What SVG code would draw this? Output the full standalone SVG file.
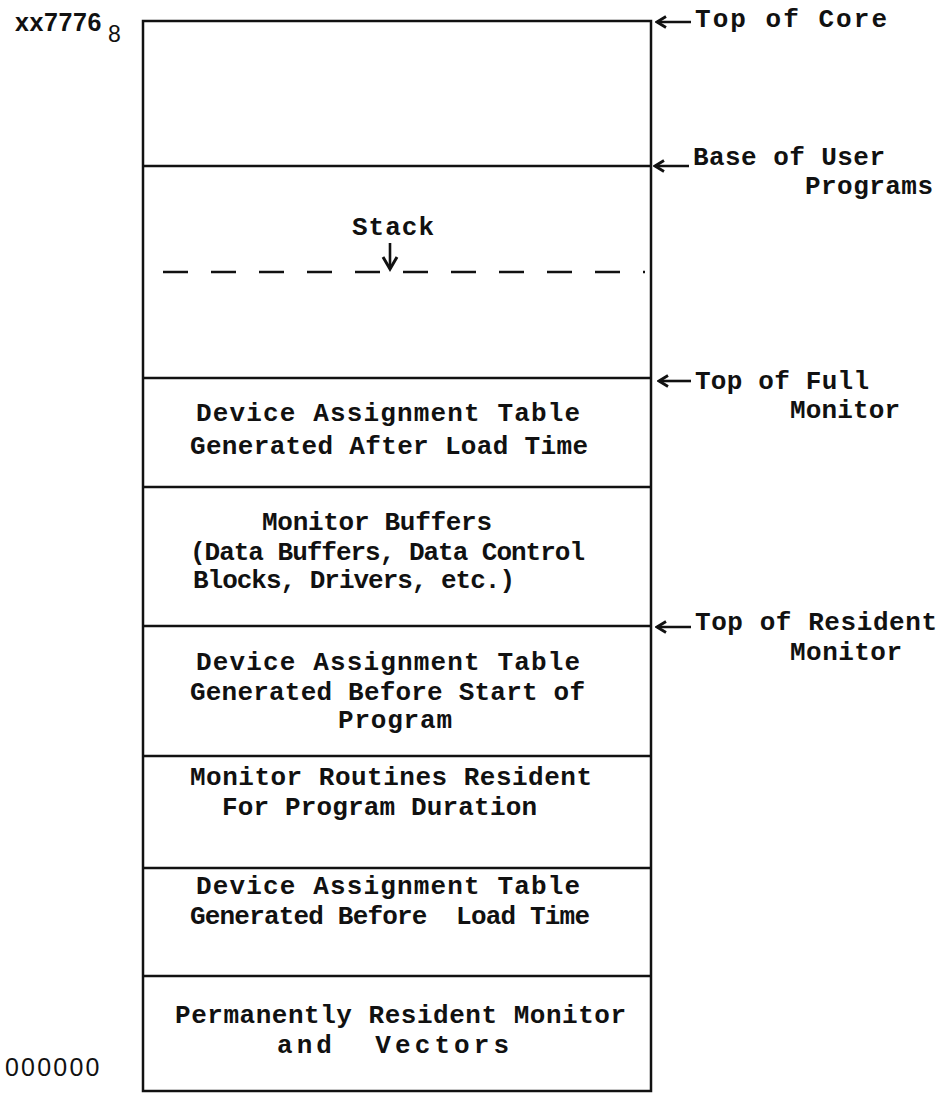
<svg xmlns="http://www.w3.org/2000/svg" width="941" height="1097" viewBox="0 0 941 1097">
<style>
.t{font-family:"Liberation Mono","DejaVu Sans Mono",monospace;font-size:26px;font-weight:bold;fill:#111}
.s{font-family:"Liberation Sans","DejaVu Sans",sans-serif;font-size:25px;fill:#111}
.ln{stroke:#111;stroke-width:2.5;fill:none}
.ar{stroke:#111;stroke-width:2.6;fill:none}
</style>
<defs>
<marker id="ah" viewBox="0 0 14 14" refX="12" refY="7" markerWidth="14" markerHeight="14" markerUnits="userSpaceOnUse" orient="auto">
<path d="M3,1.5 L12,7 L3,12.5" stroke="#111" stroke-width="2.8" fill="none" stroke-linejoin="miter"/>
</marker>
<marker id="ahs" viewBox="0 0 18 18" refX="15" refY="9" markerWidth="18" markerHeight="18" markerUnits="userSpaceOnUse" orient="auto">
<path d="M3,2 L15,9 L3,16" stroke="#111" stroke-width="3" fill="none" stroke-linejoin="miter"/>
</marker>
</defs>
<g id="memory-box">
<rect class="ln" x="143" y="21" width="508" height="1070"/>
</g>
<g id="dividers">
<line class="ln" x1="143" y1="166" x2="651" y2="166"/>
<line class="ln" x1="143" y1="378" x2="651" y2="378"/>
<line class="ln" x1="143" y1="487" x2="651" y2="487"/>
<line class="ln" x1="143" y1="626" x2="651" y2="626"/>
<line class="ln" x1="143" y1="756" x2="651" y2="756"/>
<line class="ln" x1="143" y1="868" x2="651" y2="868"/>
<line class="ln" x1="143" y1="976" x2="651" y2="976"/>
</g>
<g id="stack">
<line x1="163" y1="272" x2="645" y2="272" stroke="#111" stroke-width="2.5" stroke-dasharray="25 23"/>
<text class="t" x="352" y="235" textLength="82" lengthAdjust="spacing">Stack</text>
</g>
<g id="dat-after">
<text class="t" x="196" y="421" textLength="384" lengthAdjust="spacing">Device Assignment Table</text>
<text class="t" x="190" y="454" textLength="398" lengthAdjust="spacing">Generated After Load Time</text>
</g>
<g id="monitor-buffers">
<text class="t" x="262" y="530" textLength="230" lengthAdjust="spacing">Monitor Buffers</text>
<text class="t" x="190" y="560" textLength="395" lengthAdjust="spacing">(Data Buffers, Data Control</text>
<text class="t" x="193" y="588" textLength="322" lengthAdjust="spacing">Blocks, Drivers, etc.)</text>
</g>
<g id="dat-before-start">
<text class="t" x="196" y="670" textLength="384" lengthAdjust="spacing">Device Assignment Table</text>
<text class="t" x="190" y="700" textLength="395" lengthAdjust="spacing">Generated Before Start of</text>
<text class="t" x="338" y="728" textLength="114" lengthAdjust="spacing">Program</text>
</g>
<g id="monitor-routines">
<text class="t" x="190" y="785" textLength="402" lengthAdjust="spacing">Monitor Routines Resident</text>
<text class="t" x="222" y="815" textLength="315" lengthAdjust="spacing">For Program Duration</text>
</g>
<g id="dat-before-load">
<text class="t" x="196" y="894" textLength="384" lengthAdjust="spacing">Device Assignment Table</text>
<text class="t" x="190" y="924" textLength="400" lengthAdjust="spacing" xml:space="preserve">Generated Before  Load Time</text>
</g>
<g id="permanent">
<text class="t" x="175" y="1023" textLength="451" lengthAdjust="spacing">Permanently Resident Monitor</text>
<text class="t" x="277" y="1053" textLength="232" lengthAdjust="spacing" xml:space="preserve">and  Vectors</text>
</g>
<g id="addresses">
<text x="15" y="31" style="font-family:'Liberation Sans','DejaVu Sans',sans-serif;font-size:25px;font-weight:bold;fill:#111" letter-spacing="0.6">xx7776<tspan x="108" y="42" font-size="23" font-weight="normal" letter-spacing="0">8</tspan></text>
<text class="s" x="5" y="1076" letter-spacing="2.2">000000</text>
</g>
<g id="labels">
<text class="t" x="695" y="27" textLength="192" lengthAdjust="spacing">Top of Core</text>
<text class="t" x="693" y="165" textLength="192" lengthAdjust="spacing">Base of User</text>
<text class="t" x="805" y="194" textLength="128" lengthAdjust="spacing">Programs</text>
<text class="t" x="695" y="389" textLength="174" lengthAdjust="spacing">Top of Full</text>
<text class="t" x="790" y="418" textLength="110" lengthAdjust="spacing">Monitor</text>
<text class="t" x="695" y="630" textLength="242" lengthAdjust="spacing">Top of Resident</text>
<text class="t" x="790" y="660" textLength="112" lengthAdjust="spacing">Monitor</text>
</g>
<g id="connectors">
<line class="ar" x1="390" y1="243" x2="390" y2="269" marker-end="url(#ahs)"/>
<line class="ar" x1="691" y1="22" x2="657" y2="22" marker-end="url(#ah)"/>
<line class="ar" x1="689" y1="166" x2="655" y2="166" marker-end="url(#ah)"/>
<line class="ar" x1="691" y1="381" x2="659" y2="381" marker-end="url(#ah)"/>
<line class="ar" x1="691" y1="627" x2="657" y2="627" marker-end="url(#ah)"/>
</g>
</svg>
